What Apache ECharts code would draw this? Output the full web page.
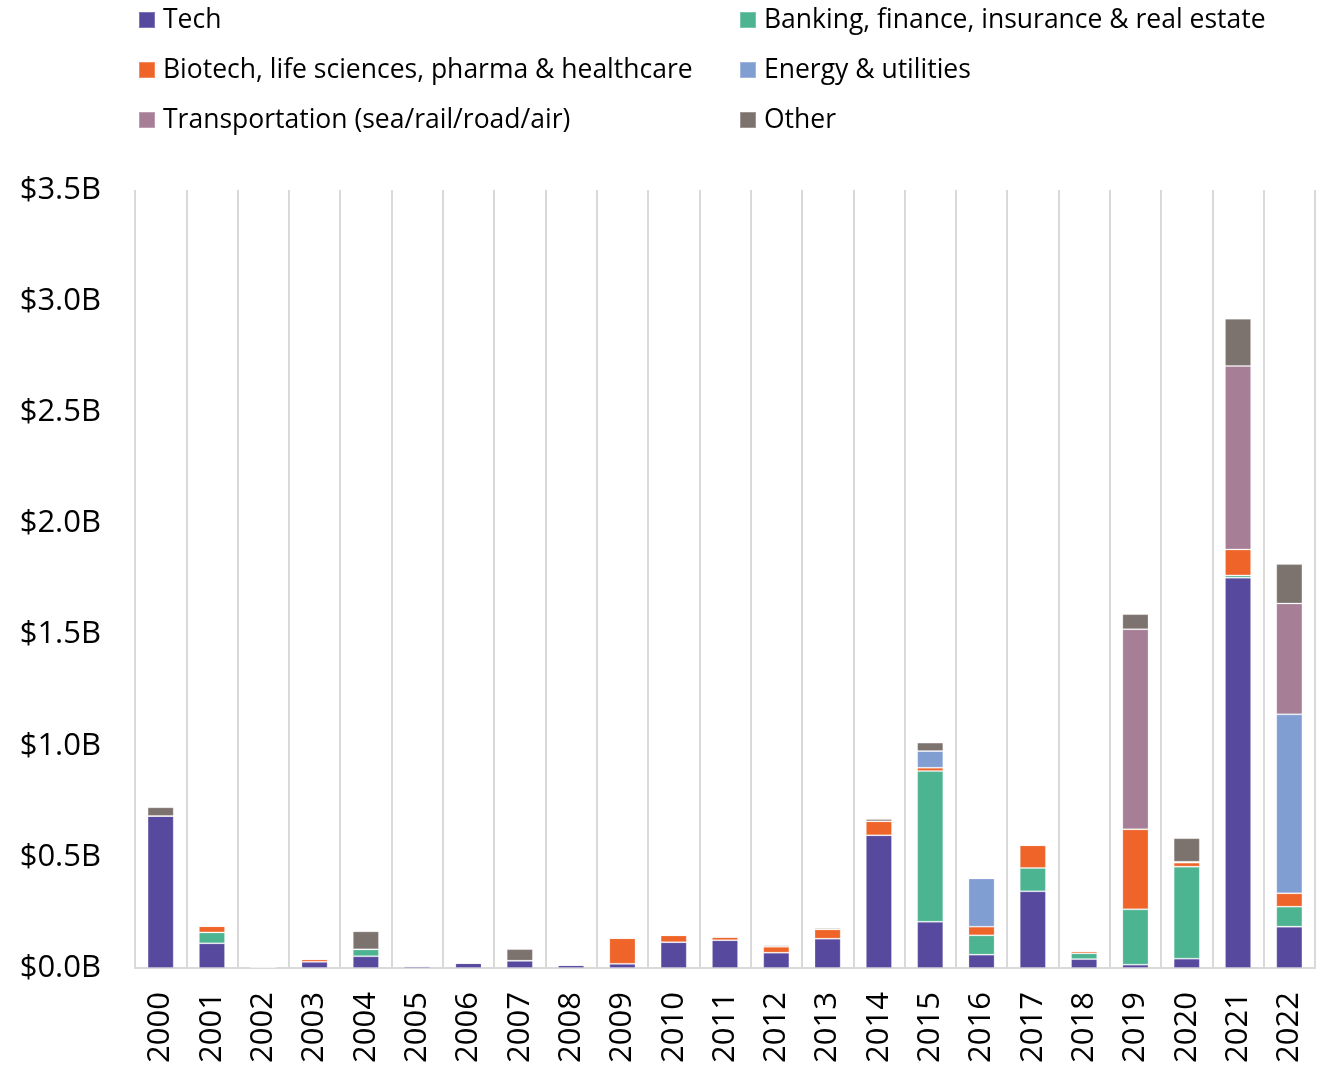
<!DOCTYPE html>
<html><head><meta charset="utf-8">
<script src="https://cdn.jsdelivr.net/npm/echarts@6/dist/echarts.min.js"></script>
<style>html,body{margin:0;padding:0;background:#fff}#c{width:1320px;height:1067px}</style>
</head><body><div id="c"></div>
<script>
const years = ['2000','2001','2002','2003','2004','2005','2006','2007','2008','2009','2010','2011','2012','2013','2014','2015','2016','2017','2018','2019','2020','2021','2022'];
const tech =      [0.684,0.111,0.005,0.028,0.053,0.008,0.022,0.033,0.013,0.019,0.116,0.125,0.069,0.132,0.597,0.208,0.060,0.345,0.040,0.015,0.042,1.756,0.186];
const banking =   [0,0.049,0,0,0.031,0,0,0,0,0,0,0,0,0,0,0.678,0.087,0.105,0.026,0.249,0.414,0.010,0.090];
const biotech =   [0,0.028,0,0.011,0,0,0,0,0,0.115,0.031,0.014,0.027,0.042,0.063,0.015,0.039,0.102,0.009,0.360,0.018,0.117,0.060];
const energy =    [0,0,0,0,0,0,0,0,0,0,0,0,0,0,0,0.075,0.217,0,0,0,0.004,0,0.805];
const transport = [0,0,0,0,0,0,0,0,0,0,0,0,0,0,0,0,0,0,0,0.900,0,0.825,0.499];
const other =     [0.039,0,0,0,0.081,0,0,0.052,0,0,0,0.003,0.006,0.006,0.010,0.038,0,0.004,0,0.068,0.106,0.213,0.177];
const yTicks = {min:0, max:3.5, interval:0.5};

const names = ['Tech','Banking, finance, insurance & real estate','Biotech, life sciences, pharma & healthcare','Energy & utilities','Transportation (sea/rail/road/air)','Other'];
const colors = ['#56499E','#4DB492','#EF6428','#809ED2','#A67E96','#7C726E'];
const datas = [tech, banking, biotech, energy, transport, other];
const FONT = '"Open Sans", "Noto Sans", sans-serif';

const legendCommon = {
  orient:'vertical', itemWidth:16, itemHeight:16, itemGap:20,
  icon:'rect',
  textStyle:{fontFamily:FONT, fontSize:26.5, color:'#000', lineHeight:30, padding:[0,0,0,3]},
  selectedMode:false
};

const chart = echarts.init(document.getElementById('c'));
chart.setOption({
  animation:false,
  color: colors,
  legend:[
    Object.assign({left:133, top:0, data:[names[0],names[2],names[4]]}, legendCommon),
    Object.assign({left:734, top:0, data:[names[1],names[3],names[5]]}, legendCommon)
  ],
  grid:{left:135, right:5, top:190, bottom:99},
  xAxis:{
    type:'category', data:years,
    axisLine:{lineStyle:{color:'#d9d9d9', width:2}},
    axisTick:{show:false},
    splitLine:{show:true, interval:0, lineStyle:{color:'#d9d9d9', width:2}},
    axisLabel:{rotate:90, interval:0, fontFamily:FONT, fontSize:31, color:'#000', margin:24}
  },
  yAxis:{
    type:'value', min:yTicks.min, max:yTicks.max, interval:yTicks.interval,
    axisLine:{show:false}, axisTick:{show:false}, splitLine:{show:false},
    axisLabel:{fontFamily:FONT, fontSize:31, color:'#000', margin:34,
      formatter:v=>'$'+v.toFixed(1)+'B'}
  },
  series: names.map((n,i)=>({
    name:n, type:'bar', stack:'s', data:datas[i], barCategoryGap:'49%',
    itemStyle:{color:colors[i], borderColor:'rgba(255,255,255,0.25)', borderWidth:1}
  }))
});
</script></body></html>
